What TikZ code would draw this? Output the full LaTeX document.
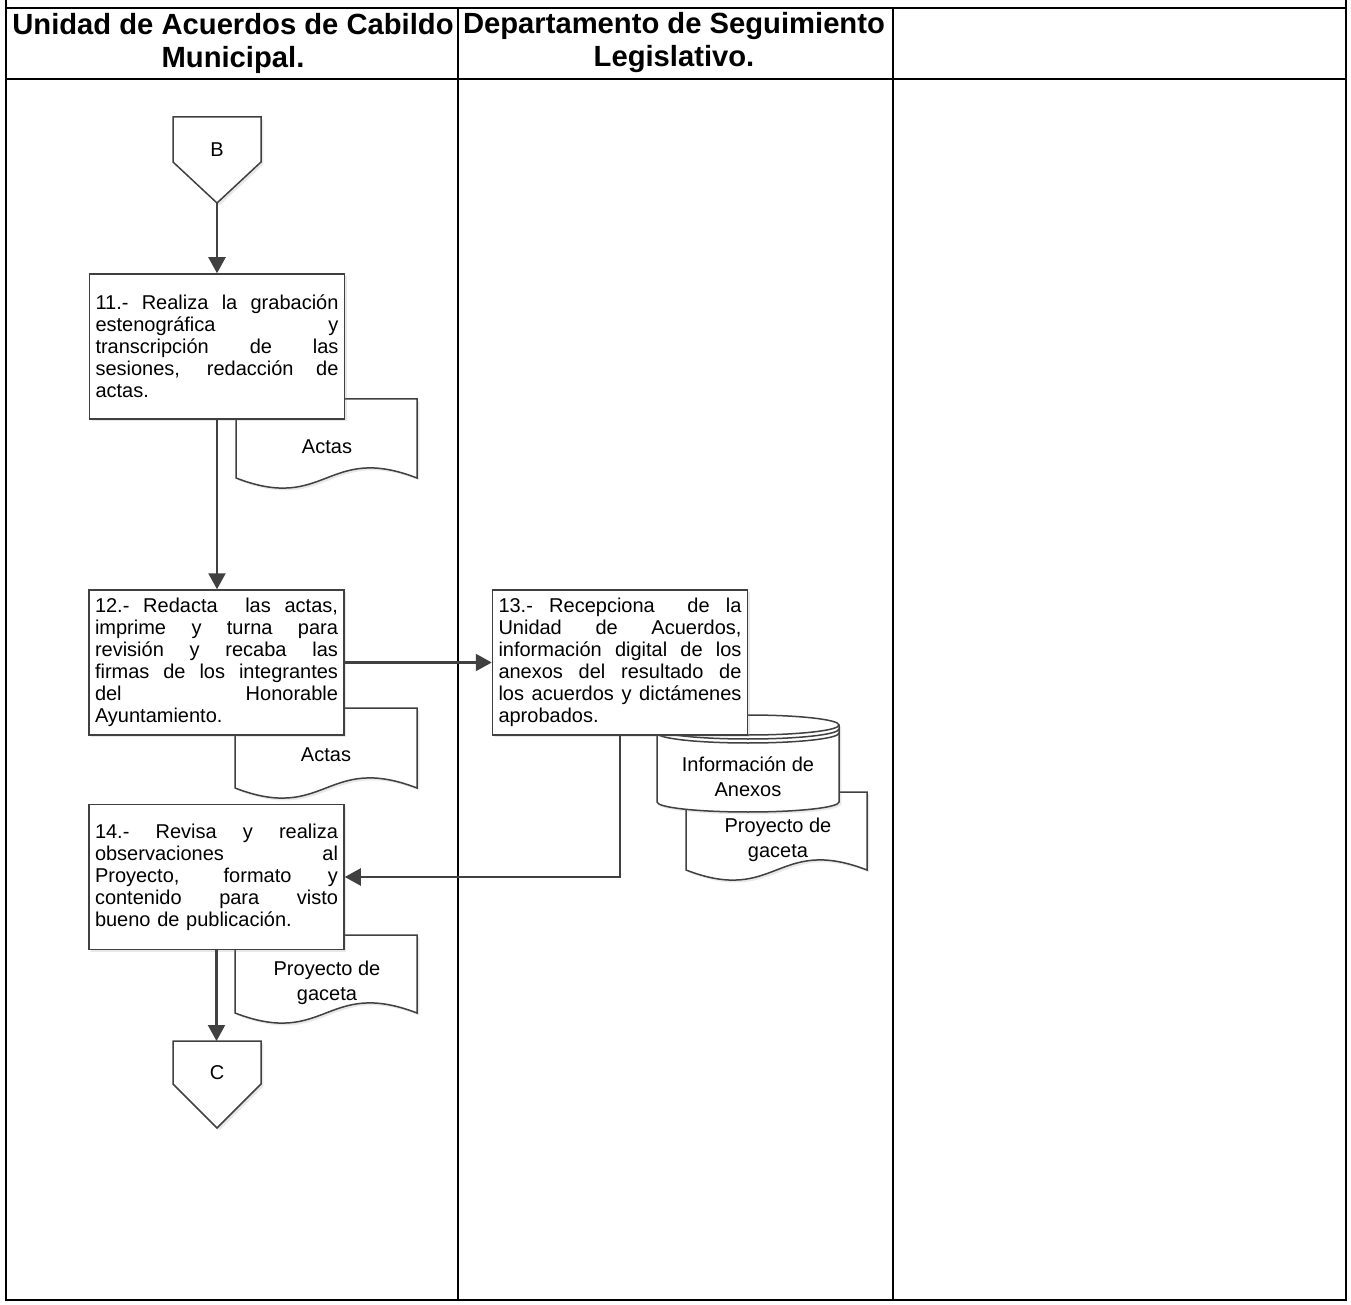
\documentclass[tikz,border=0pt]{standalone}
\usepackage{fontspec}
\setmainfont{Liberation Sans}
\usetikzlibrary{arrows.meta,shadows}
\definecolor{ln}{HTML}{404040}
\newcommand{\jl}[1]{\leavevmode\hbox to 121.5pt{\spaceskip=0.28em plus 1fil\relax #1}}
\newcommand{\docshape}[4]{%
  \draw[shapeln] (#1,#2) -- (#3,#2) -- (#3,#4)
    .. controls ({(#1+#3)/2},{#4-35}) and ({(#1+#3)/2},{#4+35}) .. (#1,#4) -- cycle;}
\begin{document}
\begin{tikzpicture}[x=0.5pt,y=-0.5pt,
  tbl/.style={line width=1pt, black},
  shd/.style={drop shadow={shadow xshift=1.2pt, shadow yshift=-1.2pt, opacity=0.18}},
  proc/.style={draw=ln, line width=0.75pt, fill=white, rectangle, text width=121.5pt,
    inner xsep=3pt, inner ysep=0pt, minimum height=72.5pt, align=left,
    font=\fontsize{10}{11}\selectfont, shd},
  shapeln/.style={draw=ln, line width=0.75pt, fill=white, shd},
  flow/.style={draw=ln, line width=1.1pt, -{Triangle[length=8pt,width=8.5pt]}},
  lbl/.style={font=\fontsize{10}{12.5}\selectfont, align=center, inner sep=0pt},
  hdr/.style={font=\bfseries\fontsize{14.6}{16.5}\selectfont, align=center, inner sep=0pt},
]
\useasboundingbox (0,0) rectangle (1351,1305);
\fill[white] (0,0) rectangle (1351,1305);

% table
\draw[tbl] (6,0) -- (6,1300) -- (1346,1300) -- (1346,0);
\draw[tbl] (6,8) -- (1346,8);
\draw[tbl] (6,79) -- (1346,79);
\draw[tbl] (458,8) -- (458,1300);
\draw[tbl] (893,8) -- (893,1300);
\node[hdr] (h1) at (233,43) {Unidad de Acuerdos de Cabildo\\Municipal.};
\node[hdr] (h2) at (674,43) {Departamento de Seguimiento\\Legislativo.};

% documents (behind boxes)
\docshape{236}{399}{417}{478}
\node[lbl] (d1) at (327,447) {Actas};
\docshape{235}{708}{417}{788}
\node[lbl] (d2) at (326,755) {Actas};
\docshape{235}{935}{417}{1013}
\node[lbl] (d3) at (327,983) {Proyecto de\\gaceta};
\docshape{686}{792}{867}{870}
\node[lbl] (d4) at (778,840) {Proyecto de\\gaceta};

% cylinder
\draw[shapeln] (657,725) -- (657,802) arc[start angle=180,end angle=0,x radius=91,y radius=10]
  -- (839,725) arc[start angle=0,end angle=-180,x radius=91,y radius=10] -- cycle;
\draw[draw=ln, line width=0.75pt] (657,725) arc[start angle=180,end angle=0,x radius=91,y radius=10];
\draw[draw=ln, line width=0.75pt] (657,729) arc[start angle=180,end angle=0,x radius=91,y radius=10];
\draw[draw=ln, line width=0.75pt] (657,733) arc[start angle=180,end angle=0,x radius=91,y radius=10];
\node[lbl] (db) at (748,777) {Información de\\Anexos};

% off-page connectors
\draw[shapeln] (173,117) -- (261,117) -- (261,162) -- (217,203) -- (173,162) -- cycle;
\node[lbl] (cB) at (217,150) {B};
\coordinate (cBtip) at (217,203);
\draw[shapeln] (173,1041) -- (261,1041) -- (261,1084) -- (217,1128) -- (173,1084) -- cycle;
\node[lbl] (cC) at (217,1073) {C};
\coordinate (cCtop) at (217,1041);

% process boxes
\node[proc] (p11) at (217,346.5) {\jl{11.- Realiza la grabación}\\\jl{estenográfica y}\\\jl{transcripción de las}\\\jl{sesiones, redacción de}\\actas.};
\node[proc] (p12) at (216.5,662.5) {\jl{12.- Redacta \ las actas,}\\\jl{imprime y turna para}\\\jl{revisión y recaba las}\\\jl{firmas de los integrantes}\\\jl{del Honorable}\\Ayuntamiento.};
\node[proc] (p13) at (620,662.5) {\jl{13.- Recepciona \ de la}\\\jl{Unidad de Acuerdos,}\\\jl{información digital de los}\\\jl{anexos del resultado de}\\\jl{los acuerdos y dictámenes}\\aprobados.};
\node[proc] (p14) at (216.5,877) {\jl{14.- Revisa y realiza}\\\jl{observaciones al}\\\jl{Proyecto, formato y}\\\jl{contenido para visto}\\bueno de publicación.};

% flows
\draw[flow] (cBtip) -- (cBtip |- p11.north);
\draw[flow] (p11.south) -- (p11.south |- p12.north);
\draw[flow] (p12.east) -- (p13.west);
\draw[flow] (p13.south) |- (p14.east);
\draw[flow] (p14.south) -- (p14.south |- cCtop);
\end{tikzpicture}
\end{document}
